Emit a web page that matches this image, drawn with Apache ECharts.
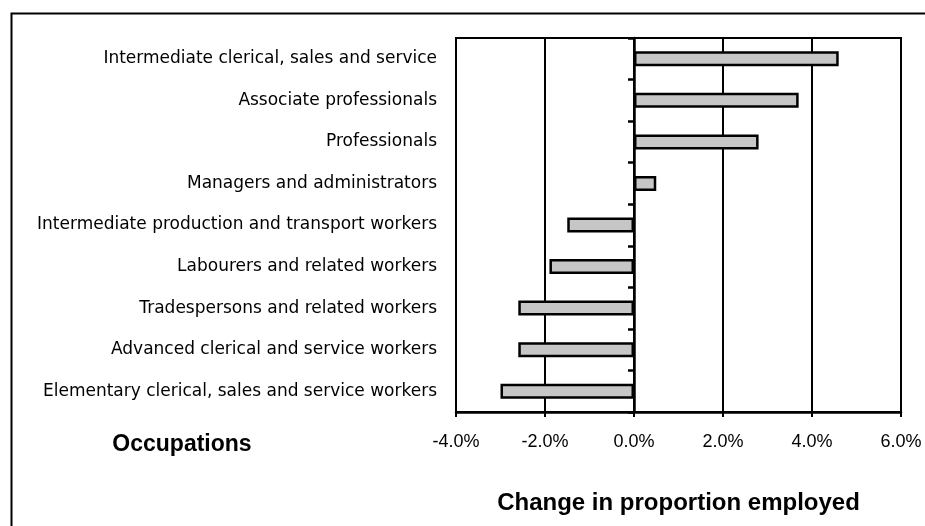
<!DOCTYPE html>
<html>
<head>
<meta charset="utf-8">
<script src="https://cdn.jsdelivr.net/npm/echarts@6/dist/echarts.min.js"></script>
<style>
html,body{margin:0;padding:0;background:#fff;}
#chart{width:925px;height:526px;}
</style>
</head>
<body>
<div id="chart"></div>
<script>
const categories = [
  'Intermediate clerical, sales and service',
  'Associate professionals',
  'Professionals',
  'Managers and administrators',
  'Intermediate production and transport workers',
  'Labourers and related workers',
  'Tradespersons and related workers',
  'Advanced clerical and service workers',
  'Elementary clerical, sales and service workers'
];
const changeValues = [4.6, 3.7, 2.8, 0.5, -1.5, -1.9, -2.6, -2.6, -3.0];
const xTicks = { min: -4, max: 6, interval: 2 };
const xTitle = 'Change in proportion employed';
const yTitle = 'Occupations';

const chart = echarts.init(document.getElementById('chart'), null, { renderer: 'canvas' });
const font = "'Liberation Sans', Arial, sans-serif";
const labelFont = "'DejaVu Sans', 'Liberation Sans', sans-serif";

chart.setOption({
  animation: false,
  backgroundColor: '#fff',
  grid: {
    left: 456, right: 24, top: 38, bottom: 114,
    show: true, borderColor: '#000', borderWidth: 2, backgroundColor: 'transparent'
  },
  graphic: [
    {
      type: 'rect', left: 9, top: 11, silent: true, z: -10,
      shape: { width: 940, height: 600 },
      style: { fill: 'none', stroke: '#000', lineWidth: 2 }
    },
    {
      type: 'text', x: 182, y: 445,
      style: {
        text: yTitle, textAlign: 'center', textVerticalAlign: 'middle',
        font: "bold 23px 'Liberation Sans', Arial, sans-serif", fill: '#000'
      }
    }
  ],
  xAxis: {
    type: 'value',
    min: xTicks.min, max: xTicks.max, interval: xTicks.interval,
    name: xTitle, nameLocation: 'middle', nameGap: 79,
    nameTextStyle: { fontFamily: font, fontWeight: 'bold', fontSize: 24, color: '#000' },
    axisLine: { show: true, onZero: false, lineStyle: { color: '#000', width: 2.5 } },
    axisTick: { show: true, length: 5, lineStyle: { color: '#000', width: 2 } },
    axisLabel: {
      margin: 21, color: '#000', fontFamily: font, fontSize: 18,
      formatter: v => v.toFixed(1) + '%'
    },
    splitLine: { show: true, lineStyle: { color: '#000', width: 2 } }
  },
  yAxis: [
    {
      type: 'category', data: categories, inverse: true,
      axisLine: { show: false, onZero: false }, axisTick: { show: false },
      axisLabel: { margin: 19, color: '#000', fontFamily: labelFont, fontSize: 17 },
      splitLine: { show: false }
    },
    {
      type: 'category', data: categories, inverse: true, position: 'left',
      axisLine: { show: true, onZero: true, lineStyle: { color: '#000', width: 2.5 } },
      axisTick: { show: true, length: 6, lineStyle: { color: '#000', width: 2.5 } },
      axisLabel: { show: false },
      splitLine: { show: false }
    }
  ],
  series: [{
    type: 'bar',
    yAxisIndex: 0,
    data: changeValues,
    barWidth: 15,
    itemStyle: { color: '#c6c6c6', borderColor: '#000', borderWidth: 2.5 },
    z: 3
  }]
});
</script>
</body>
</html>
